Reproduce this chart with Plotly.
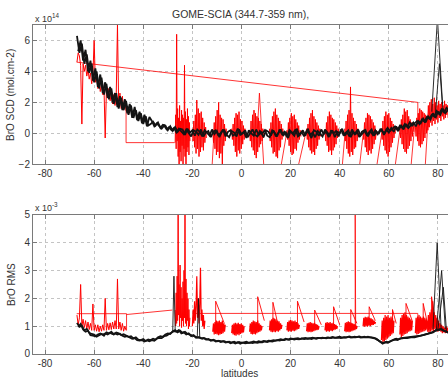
import numpy as np
import plotly.graph_objects as go

# ---------------- data ----------------
X_TICKS = [-80, -60, -40, -20, 0, 20, 40, 60, 80]
SCD_TICKS = [-2, 0, 2, 4, 6]
RMS_TICKS = [0, 1, 2, 3, 4, 5]
TITLE = "GOME-SCIA (344.7-359 nm),"

# black SCD (x1e14), two interleaved tracks, 1 deg sampling
BLACK_SCD_A_START = -67.0
BLACK_SCD_A = [6.3, 5.2, 5.8, 4.5, 5.1, 3.9, 4.5, 3.3, 4.0, 2.9, 3.6, 2.5, 3.2, 2.2, 2.9, 1.9, 2.6, 1.6, 2.3, 1.5,
               2.1, 1.2, 1.8, 1.0, 1.5, 0.8, 1.3, 0.6, 1.1, 0.5, 0.6, 0.75, 0.5, 0.7, 0.35, 0.55, 0.5, 0.2, 0.45, 0.15,
               0.4, 0.1, 0.3, 0.25, -0.1, 0.3, 0.05, 0.2, -0.15, 0.25, 0.1, -0.2, 0.2, 0.05, -0.15, 0.25, -0.05, 0.15, -0.25, 0.1,
               0.2, -0.1, -0.25, 0.15, 0.05, -0.2, 0.25, -0.05, 0.1, -0.3, 0.2, 0.0, -0.15, 0.25, -0.1, 0.05, -0.25, 0.2, 0.1, -0.15,
               0.2, -0.2, 0.05, 0.25, -0.15, 0.1, -0.3, 0.15, 0.0, 0.25, -0.2, -0.05, 0.2, -0.15, 0.3, -0.1, 0.05, -0.25, 0.15, 0.0,
               -0.2, 0.25, 0.05, -0.15, 0.2, -0.25, 0.1, 0.0, 0.3, -0.15, 0.05, -0.2, 0.25, -0.05, 0.15, -0.25, 0.1, 0.2, -0.1, 0.05,
               0.25, -0.15, 0.1, 0.0, 0.3, -0.1, 0.25, 0.05, 0.35, 0.1, 0.45, 0.2, 0.5, 0.25, 0.6, 0.35, 0.55, 0.7, 0.45, 0.8,
               0.65, 0.95, 0.7, 1.1, 0.9, 1.3, 1.0, 1.4, 1.2, 1.6, 1.3, 1.5, 1.6]
BLACK_SCD_B_START = -66.5
BLACK_SCD_B = [5.3, 6.0, 4.7, 5.4, 4.0, 4.7, 3.4, 4.2, 3.0, 3.8, 2.6, 3.3, 2.3, 3.0, 2.0, 2.6, 1.7, 2.4, 1.5, 2.2,
               1.3, 1.9, 1.0, 1.7, 0.85, 1.4, 0.65, 1.2, 0.45, 1.05, 0.8, 0.45, 0.65, 0.5, 0.3, 0.5, 0.25, 0.4, 0.2, 0.35,
               0.05, 0.3, 0.15, -0.05, 0.25, 0.0, -0.2, 0.2, 0.1, -0.1, 0.25, -0.2, 0.05, 0.15, -0.25, 0.1, 0.2, -0.1, 0.0, 0.25,
               -0.2, 0.1, 0.2, -0.15, -0.05, 0.3, -0.1, 0.0, 0.2, -0.25, 0.05, 0.25, -0.1, -0.2, 0.15, 0.0, 0.2, -0.15, -0.25, 0.2,
               0.05, -0.2, 0.25, -0.05, 0.1, -0.25, 0.2, 0.05, -0.15, 0.3, -0.1, 0.1, -0.2, 0.15, 0.0, -0.3, 0.2, 0.1, -0.15, 0.25,
               -0.05, 0.1, -0.25, 0.2, 0.0, 0.15, -0.2, 0.25, -0.1, 0.05, 0.2, -0.25, 0.1, -0.05, 0.25, -0.15, 0.0, 0.2, -0.2, 0.15,
               -0.1, 0.2, -0.05, 0.25, 0.1, 0.05, 0.35, 0.15, 0.3, 0.45, 0.2, 0.5, 0.35, 0.6, 0.4, 0.7, 0.5, 0.65, 0.8, 0.6,
               0.9, 0.75, 1.05, 0.95, 1.2, 1.1, 1.45, 1.25, 1.55, 1.35, 1.65, 1.5]
BLACK_SCD_SPIKE_LAT = [77.5, 79.8, 82.0, None, 79.0, 80.6, 81.8]
BLACK_SCD_SPIKE_VAL = [1.4, 7.4, 1.6, None, 1.3, 4.5, 1.9]

# black RMS (x1e-3)
BLACK_RMS_A_START = -67.0
BLACK_RMS_A = [1.12, 0.98, 1.02, 0.85, 0.9, 0.76, 0.72, 0.7, 0.62, 0.68, 0.72, 0.66, 0.78, 0.74, 0.8, 0.7, 0.77, 0.74, 0.68, 0.71,
               0.66, 0.62, 0.64, 0.56, 0.6, 0.52, 0.5, 0.54, 0.47, 0.52, 0.5, 0.55, 0.52, 0.6, 0.64, 0.62, 0.7, 0.74, 0.72, 0.82,
               0.86, 0.78, 0.84, 0.76, 0.8, 0.72, 0.7, 0.66, 0.64, 0.6, 0.6, 0.55, 0.57, 0.52, 0.52, 0.49, 0.5, 0.46, 0.47, 0.45,
               0.46, 0.42, 0.44, 0.41, 0.44, 0.4, 0.43, 0.4, 0.42, 0.44, 0.4, 0.43, 0.45, 0.42, 0.46, 0.44, 0.47, 0.45, 0.48, 0.47,
               0.5, 0.48, 0.5, 0.53, 0.51, 0.55, 0.52, 0.56, 0.54, 0.55, 0.57, 0.54, 0.56, 0.58, 0.55, 0.57, 0.59, 0.56, 0.58, 0.57,
               0.59, 0.57, 0.6, 0.58, 0.61, 0.58, 0.6, 0.62, 0.59, 0.61, 0.6, 0.63, 0.6, 0.62, 0.61, 0.63, 0.6, 0.62, 0.6, 0.61,
               0.6, 0.58, 0.55, 0.48, 0.42, 0.4, 0.44, 0.42, 0.48, 0.52, 0.55, 0.53, 0.57, 0.58, 0.6, 0.59, 0.62, 0.63, 0.62, 0.65,
               0.66, 0.68, 0.7, 0.72, 0.75, 0.78, 0.84, 0.86, 0.9, 0.85, 0.82, 0.78, 0.8]
BLACK_RMS_B_START = -66.5
BLACK_RMS_B = [0.98, 1.08, 0.88, 0.8, 0.84, 0.68, 0.66, 0.64, 0.7, 0.74, 0.7, 0.74, 0.7, 0.76, 0.72, 0.74, 0.7, 0.73, 0.66, 0.62,
               0.64, 0.58, 0.55, 0.57, 0.5, 0.48, 0.5, 0.45, 0.49, 0.46, 0.5, 0.48, 0.55, 0.58, 0.57, 0.64, 0.66, 0.72, 0.77, 0.82,
               0.8, 0.86, 0.74, 0.78, 0.7, 0.74, 0.64, 0.68, 0.58, 0.6, 0.56, 0.58, 0.52, 0.54, 0.48, 0.51, 0.45, 0.48, 0.43, 0.46,
               0.41, 0.44, 0.39, 0.42, 0.38, 0.42, 0.37, 0.41, 0.38, 0.4, 0.41, 0.39, 0.42, 0.4, 0.43, 0.42, 0.45, 0.43, 0.46, 0.45,
               0.47, 0.5, 0.48, 0.51, 0.5, 0.53, 0.51, 0.54, 0.52, 0.54, 0.53, 0.56, 0.54, 0.55, 0.56, 0.54, 0.57, 0.55, 0.58, 0.56,
               0.58, 0.56, 0.59, 0.57, 0.6, 0.58, 0.59, 0.57, 0.6, 0.59, 0.62, 0.59, 0.61, 0.6, 0.62, 0.59, 0.61, 0.6, 0.62, 0.6,
               0.58, 0.55, 0.5, 0.44, 0.37, 0.42, 0.4, 0.46, 0.5, 0.52, 0.5, 0.55, 0.56, 0.58, 0.57, 0.6, 0.61, 0.6, 0.63, 0.64,
               0.67, 0.7, 0.72, 0.74, 0.78, 0.82, 0.88, 0.86, 0.9, 0.84, 0.8, 0.76]
BLACK_RMS_SPIKE_LAT = [78.0, 79.7, 81.3, None, 79.3, 81.5, 83.0, None, 80.0, 82.2, 83.5, None,
                       -28.0, -27.5, -27.0, None, -18.0, -17.5, -17.0]
BLACK_RMS_SPIKE_VAL = [0.9, 4.0, 0.9, None, 0.8, 3.0, 0.9, None, 0.9, 2.4, 0.8, None,
                       0.8, 2.8, 0.85, None, 0.62, 2.0, 0.6]

# red SCD: southern segment (0.5 deg), big burst (0.2 deg), orbit bursts (0.3 deg)
RED_SCD_SOUTH_START = -67.0
RED_SCD_SOUTH = [4.6, 5.2, 5.0, 4.4, 0.6, 4.5, 4.0, 4.4, 3.7, 4.1, 3.5, 3.9, 3.2, 3.8, 6.0, 3.3, 3.7, 2.9, 3.4, 2.7,
                 3.2, 2.5, 3.0, -0.3, 2.8, 2.3, 2.9, 2.1, 2.6, 1.9, 2.5, 1.8, 2.6, 7.0, 1.7, 2.6, 1.6, 2.4, 1.5, 2.2, 1.4]
RED_SCD_BIG_START = -27.0
RED_SCD_BIG = [-0.6, 1.2, -1.0, 6.4, -0.5, 1.6, -1.5, 1.0, -2.2, 1.8, -1.2, 0.8, -1.8, 1.5, -0.8, 1.2, -2.2, 1.0, -1.0, 4.4,
               -1.5, 1.4, -2.2, 0.9, -1.2, 1.6, -0.9, 1.1, -1.4, 0.7, -0.5]
BURST_STARTS = [-20.0, -11.7, -4.0, 3.3, 11.4, 18.5, 26.5, 34.0, 42.0, 49.5, 57.0, 64.5, 70.8, 75.8]
RED_SCD_BURSTS = [
    [0.3, -0.5, 0.8, -0.9, 1.2, -1.3, 2.15, -1.0, 1.6, -1.5, 1.3, -1.2, 1.4, -0.9, 1.0, -1.1, 0.7, -0.6, 0.4, -0.3],
    [0.2, -0.6, 0.7, -1.0, 1.1, -1.4, 1.5, -1.2, 2.0, -1.6, 1.2, -1.3, 1.0, -2.1, 0.9, -0.8, 0.6, -0.5, 0.3, -0.2],
    [0.3, -0.4, 0.6, -0.8, 1.0, -1.2, 1.3, -1.5, 1.2, -1.1, 1.4, -1.3, 0.9, -1.0, 0.8, -0.7, 0.5, -0.4, 0.3, -0.2],
    [0.2, -0.5, 0.8, -0.9, 1.2, -1.1, 1.5, -1.4, 1.3, -1.6, 1.1, -1.2, 1.0, -0.9, 0.8, -0.7, 0.6, -0.5, 0.3, -0.3],
    [0.3, -0.5, 0.7, -0.9, 1.1, -1.3, 1.4, -1.2, 1.6, -1.5, 1.2, -1.6, 1.0, -1.1, 0.8, -0.9, 0.6, -0.4, 0.3, -0.2],
    [0.2, -0.4, 0.7, -0.8, 1.0, -1.2, 1.3, -1.4, 1.1, -1.3, 1.2, -1.0, 0.9, -1.1, 0.7, -0.6, 0.5, -0.4, 0.2, -0.2],
    [0.3, -0.4, 0.6, -0.9, 1.0, -1.1, 1.3, -1.3, 1.5, -1.2, 1.1, -1.4, 0.9, -1.0, 0.7, -0.8, 0.5, -0.4, 0.3, -0.2],
    [0.2, -0.5, 0.7, -0.8, 1.1, -1.2, 1.4, -1.1, 1.2, -1.4, 1.0, -1.1, 0.9, -0.9, 0.7, -0.7, 0.5, -0.3, 0.3, -0.2],
    [0.3, -0.5, 0.8, -1.0, 1.2, -1.3, 1.5, -1.5, 3.0, -1.2, 1.3, -1.4, 1.0, -1.0, 0.8, -0.9, 0.6, -0.5, 0.3, -0.2],
    [0.2, -0.4, 0.7, -0.9, 1.0, -1.2, 1.3, -1.4, 1.2, -1.1, 1.1, -1.3, 0.9, -1.0, 0.7, -0.7, 0.5, -0.4, 0.2, -0.1],
    [0.3, -0.4, 0.8, -0.8, 1.1, -1.1, 1.4, -1.3, 1.2, -1.5, 1.3, -1.2, 1.0, -0.9, 0.8, -0.6, 0.6, -0.3, 0.4, 0.0],
    [0.4, -0.3, 0.9, -0.7, 1.2, -1.0, 1.6, -1.2, 1.4, -1.3, 1.5, -1.0, 1.1, -0.8, 0.9, -0.5, 0.7, -0.2, 0.6, 0.1],
    [0.5, -0.2, 1.0, -0.5, 1.3, -0.8, 1.6, -0.9, 1.5, -0.7, 1.4, -0.5, 1.3, -0.3, 1.2, 0.0, 1.1, 0.2, 1.0, 0.4],
    [0.6, 1.8, 0.4, 2.0, 0.7, 2.2, 0.5, 1.9, 0.8, 2.3, 0.6, 2.0, 0.9, 1.8, 0.7, 2.1, 1.0, 1.9, 0.8, 2.0,
     1.1, 1.8, 0.9, 2.1, 1.0, 1.9, 1.2, 1.8, 1.0, 2.0, 1.3],
]
RED_SCD_LINK_LAT = [-67.1, 71.8, 71.8, None, -47.0, -47.0, -27.2, None, 6.5, 7.3, 9.2, None,
                    16.0, 18.6, None, 23.0, 26.6, None, 41.0, 42.2, None, 48.0, 49.6, None,
                    55.0, 57.1, None, 62.5, 64.6, None, 69.0, 70.5, None, 74.8, 76.0, None, -12.0, -11.2]
RED_SCD_LINK_VAL = [4.6, 2.0, -0.5, None, 1.4, -0.6, -0.6, None, 0.3, 2.6, -2.4, None,
                    -2.2, 0.2, None, -2.2, 0.3, None, -2.2, 0.1, None, -2.2, 0.0, None,
                    -2.2, 0.0, None, -2.2, 0.3, None, -2.2, 0.5, None, -2.2, 1.0, None, -2.2, 0.0]

# red RMS (x1e-3)
RED_RMS_SOUTH_START = -67.0
RED_RMS_SOUTH = [1.4, 1.05, 1.3, 2.5, 1.0, 1.25, 0.95, 1.2, 0.9, 1.15, 0.88, 1.1, 0.85, 1.8, 0.85, 1.05, 0.82, 1.05, 0.8, 1.0,
                 0.82, 1.05, 0.85, 2.0, 0.85, 1.1, 0.87, 1.12, 0.88, 1.15, 0.9, 1.2, 0.9, 2.7, 0.9, 1.15, 0.85, 1.1, 0.82, 1.0, 0.85]
RED_RMS_BIG_START = -27.0
RED_RMS_BIG = [1.58, 1.0, 2.2, 1.1, 2.8, 1.2, 5.2, 1.4, 2.5, 1.0, 3.2, 1.3, 2.4, 0.95, 2.0, 1.2, 2.6, 1.0, 3.0, 1.3,
               5.2, 1.1, 2.7, 1.0, 2.2, 1.2, 2.0, 0.9, 1.6, 1.0, 1.3]
RED_RMS_BURSTS = [
    [1.0, 1.6, 1.1, 1.9, 1.2, 1.7, 2.8, 1.3, 2.0, 1.1, 1.8, 3.1, 1.2, 1.6, 1.0, 1.4, 0.9, 1.2],
    [0.8, 1.1, 0.7, 1.15, 0.72, 1.2, 0.7, 1.18, 0.68, 1.2, 0.7, 1.15, 0.72, 1.2, 0.75, 1.1, 0.8, 1.05],
    [0.75, 1.05, 0.7, 1.1, 0.68, 1.12, 0.66, 1.1, 0.7, 1.12, 0.68, 1.08, 0.72, 1.1, 0.75, 1.05, 0.78, 1.0],
    [0.8, 1.1, 0.72, 1.15, 0.7, 1.2, 0.72, 1.18, 0.7, 1.15, 0.75, 1.2, 0.78, 1.1, 0.8, 1.05, 0.85, 1.0],
    [0.85, 1.2, 0.8, 1.25, 0.78, 1.3, 0.8, 1.28, 0.78, 1.25, 0.82, 1.2, 0.8, 1.18, 0.85, 1.1, 0.9, 1.05],
    [0.85, 1.15, 0.8, 1.2, 0.82, 1.22, 0.8, 1.2, 0.84, 1.18, 0.82, 1.2, 0.85, 1.15, 0.88, 1.1, 0.9, 1.05],
    [0.82, 1.1, 0.78, 1.12, 0.8, 1.15, 0.78, 1.12, 0.8, 1.1, 0.82, 1.12, 0.85, 1.08, 0.86, 1.05, 0.88, 1.0],
    [0.85, 1.12, 0.8, 1.15, 0.82, 1.12, 0.8, 1.15, 0.84, 1.1, 0.82, 1.12, 0.86, 1.08, 0.88, 1.05, 0.9, 1.0],
    [0.82, 1.12, 0.78, 1.15, 0.8, 1.18, 0.78, 1.15, 0.8, 1.12, 0.82, 1.1, 0.85, 1.08, 0.86, 1.05, 0.9, 1.0],
    [1.0, 1.3, 0.98, 1.34, 1.0, 1.32, 0.98, 1.35, 1.02, 1.3, 1.0, 1.28, 1.04, 1.25, 1.05, 1.2, 1.08, 1.15],
    [0.5, 1.2, 0.4, 1.3, 0.45, 1.4, 0.5, 1.35, 0.55, 1.4, 0.6, 1.3, 0.65, 1.35, 0.7, 1.3, 0.75, 1.2],
    [0.7, 1.3, 0.6, 1.4, 0.65, 1.45, 0.7, 1.5, 0.72, 1.4, 0.75, 1.35, 0.8, 1.3, 0.82, 1.25, 0.85, 1.2],
    [0.75, 1.3, 0.7, 1.35, 0.72, 1.4, 0.75, 1.35, 0.78, 1.3, 0.8, 1.35, 0.82, 1.3, 0.85, 1.25, 0.88, 1.2],
    [0.8, 1.4, 0.75, 1.5, 0.8, 1.6, 0.85, 1.9, 0.8, 1.5, 0.9, 1.4, 0.85, 1.3, 0.8, 1.2, 0.85, 1.1, 0.8, 1.05,
     0.75, 1.0, 0.78, 0.95, 0.75, 1.0, 0.8, 0.95, 0.78, 0.9, 0.8],
]
RMS_PEAK_LAT = [-10.5, 6.6, 12.8, 22.8, 29.8, 37.5, 44.5, 52.0, 61.5, 67.0, 74.0, 77.4]
RMS_PEAK_BASE = [1.0, 1.0, 1.1, 1.0, 1.0, 1.0, 1.0, 1.2, 1.1, 1.1, 1.1, 1.2]
RMS_PEAK_VAL = [1.9, 2.06, 1.86, 1.9, 1.58, 1.7, 1.6, 1.7, 1.6, 1.82, 1.82, 2.06]
RMS_PEAK_END_LAT = [-7.0, 9.3, 14.5, 25.5, 32.5, 40.0, 47.0, 54.5, 63.0, 69.5, 75.5, 78.8]
RMS_PEAK_END_VAL = [1.1, 1.2, 1.2, 1.15, 1.05, 1.05, 1.1, 1.2, 1.1, 1.2, 1.2, 1.3]
RED_RMS_LINK_LAT = [-67.1, -46.8, -46.8, None, -46.8, -28.2, None, -19.5, 71.8, 71.8, None, 46.3, 46.3, 46.5]
RED_RMS_LINK_VAL = [1.45, 1.45, 0.85, None, 1.42, 1.58, None, 1.46, 1.46, 1.0, None, 1.0, 5.3, 1.0]

SAMPLE_STEP_BLACK = 1.0
SAMPLE_STEP_SOUTH = 0.5
SAMPLE_STEP_BIG = 0.2
SAMPLE_STEP_BURST = 0.3

# ---------------- layout constants ----------------
W, H = 448, 379
ML, MR, MT, MB = 33, 0, 25, 25
X_RANGE = [-84.9, 84.1]
SCD_RANGE = [-2, 7]
RMS_RANGE = [0, 5]
TOP_DOMAIN = [0.5766, 1.0]
BOT_DOMAIN = [0.0, 0.4225]
RED = "#ff0000"
BLK = "#141414"
AXC = "#7a7a7a"
TXT = "#333333"
FONT = "Liberation Sans, Arial, sans-serif"


def lat_of(start, step, vals):
    return list(start + step * np.arange(len(vals)))


def bursts(starts, groups, step):
    xs, ys = [], []
    for s, g in zip(starts, groups):
        xs += lat_of(s, step, g)
        ys += g
        xs.append(None)
        ys.append(None)
    return xs, ys


def peaks(plat, pbase, pval, elat, evals):
    xs, ys = [], []
    for a, b, c, d, e in zip(plat, pbase, pval, elat, evals):
        xs += [a, a, d, None]
        ys += [b, c, e, None]
    return xs, ys


fig = go.Figure()


def add(x, y, color, axis, width=0.8):
    xa, ya = ("x", "y") if axis == 1 else ("x2", "y2")
    fig.add_trace(go.Scatter(x=x, y=y, mode="lines", xaxis=xa, yaxis=ya,
                             line=dict(color=color, width=width),
                             connectgaps=False, hoverinfo="skip", showlegend=False))


# ----- top panel: red first, black over it
add(RED_SCD_LINK_LAT, RED_SCD_LINK_VAL, RED, 1, 0.8)
add(lat_of(RED_SCD_SOUTH_START, SAMPLE_STEP_SOUTH, RED_SCD_SOUTH), RED_SCD_SOUTH, RED, 1, 1.0)
add(lat_of(RED_SCD_BIG_START, SAMPLE_STEP_BIG, RED_SCD_BIG), RED_SCD_BIG, RED, 1, 1.0)
bx, by = bursts(BURST_STARTS, RED_SCD_BURSTS, SAMPLE_STEP_BURST)
add(bx, by, RED, 1, 1.0)
add(lat_of(BLACK_SCD_A_START, SAMPLE_STEP_BLACK, BLACK_SCD_A), BLACK_SCD_A, BLK, 1, 1.8)
add(lat_of(BLACK_SCD_B_START, SAMPLE_STEP_BLACK, BLACK_SCD_B), BLACK_SCD_B, BLK, 1, 1.8)
add(BLACK_SCD_SPIKE_LAT, BLACK_SCD_SPIKE_VAL, BLK, 1, 0.9)

# ----- bottom panel
add(RED_RMS_LINK_LAT, RED_RMS_LINK_VAL, RED, 2, 0.8)
add(lat_of(RED_RMS_SOUTH_START, SAMPLE_STEP_SOUTH, RED_RMS_SOUTH), RED_RMS_SOUTH, RED, 2, 1.0)
add(lat_of(RED_RMS_BIG_START, SAMPLE_STEP_BIG, RED_RMS_BIG), RED_RMS_BIG, RED, 2, 1.0)
bx, by = bursts(BURST_STARTS, RED_RMS_BURSTS, SAMPLE_STEP_BURST)
add(bx, by, RED, 2, 1.2)
px_, py_ = peaks(RMS_PEAK_LAT, RMS_PEAK_BASE, RMS_PEAK_VAL, RMS_PEAK_END_LAT, RMS_PEAK_END_VAL)
add(px_, py_, RED, 2, 0.9)
add(lat_of(BLACK_RMS_A_START, SAMPLE_STEP_BLACK, BLACK_RMS_A), BLACK_RMS_A, BLK, 2, 1.8)
add(lat_of(BLACK_RMS_B_START, SAMPLE_STEP_BLACK, BLACK_RMS_B), BLACK_RMS_B, BLK, 2, 1.8)
add(BLACK_RMS_SPIKE_LAT, BLACK_RMS_SPIKE_VAL, BLK, 2, 0.9)

xaxis_common = dict(range=X_RANGE, tickvals=X_TICKS, ticktext=[str(v) for v in X_TICKS],
                    showline=True, linecolor=AXC, linewidth=1, mirror="ticks",
                    ticks="inside", ticklen=4, tickcolor=AXC, automargin=False,
                    showgrid=True, gridcolor="#c4c4c4", griddash="dot", gridwidth=0.8,
                    zeroline=False, tickfont=dict(family=FONT, size=10, color=TXT))
yaxis_common = dict(showline=True, linecolor=AXC, linewidth=1, mirror=False,
                    ticks="inside", ticklen=4, tickcolor=AXC, automargin=False,
                    showgrid=True, gridcolor="#c4c4c4", griddash="dot", gridwidth=0.8,
                    zeroline=False, tickfont=dict(family=FONT, size=10, color=TXT))

fig.update_layout(
    width=W, height=H,
    margin=dict(l=ML, r=MR, t=MT, b=MB, pad=0, autoexpand=False),
    paper_bgcolor="white", plot_bgcolor="white",
    font=dict(family=FONT, size=10, color=TXT),
    xaxis=dict(domain=[0, 1], anchor="y", **xaxis_common),
    yaxis=dict(domain=TOP_DOMAIN, anchor="x", range=SCD_RANGE, tickvals=SCD_TICKS, **yaxis_common),
    xaxis2=dict(domain=[0, 1], anchor="y2", **xaxis_common),
    yaxis2=dict(domain=BOT_DOMAIN, anchor="x2", range=RMS_RANGE, tickvals=RMS_TICKS, **yaxis_common),
    showlegend=False,
)


def pxx(p):
    return (p - ML) / (W - ML - MR)


def pxy(p):
    return (H - MB - p) / (H - MT - MB)


ann = [
    dict(text=TITLE, x=pxx(240), y=pxy(14), xanchor="center", yanchor="middle", font=dict(size=10.5)),
    dict(text="x 10<sup>14</sup>", x=pxx(33), y=pxy(18), xanchor="left", yanchor="middle", font=dict(size=9)),
    dict(text="x 10<sup>-3</sup>", x=pxx(33), y=pxy(207), xanchor="left", yanchor="middle", font=dict(size=9)),
    dict(text="BrO SCD (mol.cm-2)", x=pxx(11), y=pxy(95), xanchor="center", yanchor="middle",
         textangle=-90, font=dict(size=10)),
    dict(text="BrO RMS", x=pxx(11), y=pxy(285), xanchor="center", yanchor="middle",
         textangle=-90, font=dict(size=10)),
    dict(text="latitudes", x=pxx(239), y=pxy(373), xanchor="center", yanchor="middle", font=dict(size=10)),
]
for a in ann:
    a.update(xref="paper", yref="paper", showarrow=False)
fig.update_layout(annotations=ann)

fig.write_html("out.html", config={"displayModeBar": False},
               post_script="document.body.style.margin='0';document.body.style.overflow='hidden';")
